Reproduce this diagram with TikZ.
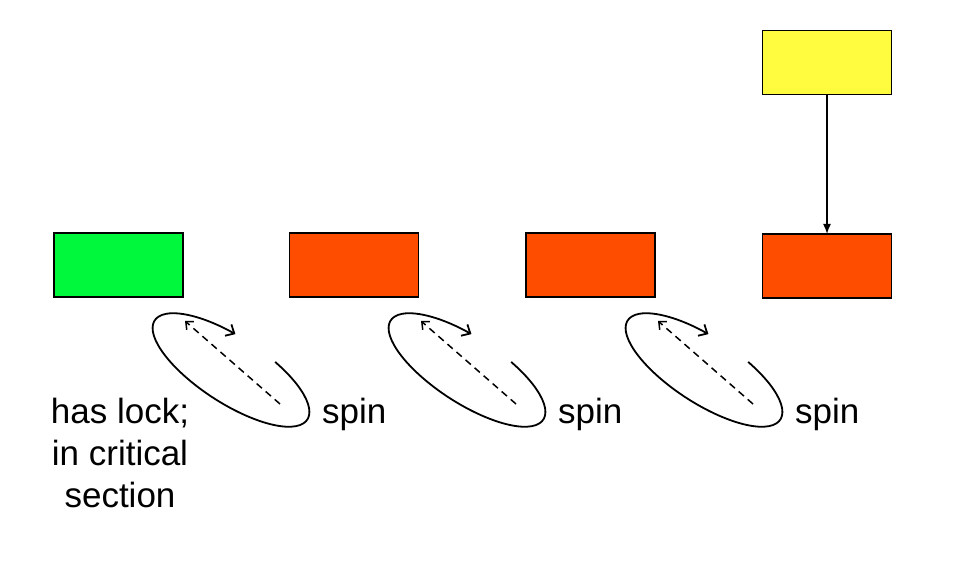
\documentclass[tikz,border=0pt]{standalone}
\usepackage{fontspec}
\setmainfont{Liberation Sans}
\usetikzlibrary{arrows.meta}
\definecolor{lockgreen}{HTML}{00F83C}
\definecolor{spinorange}{HTML}{FF4D00}
\definecolor{newyellow}{HTML}{FFFC40}
\tikzset{
  thread/.style={draw=black, line width=1.8pt, minimum width=129pt, minimum height=64pt, inner sep=0pt, outer sep=0pt},
  lbl/.style={font=\fontsize{35}{42}\selectfont, inner sep=0pt},
  spinicon/.pic={
    \begin{scope}[rotate=-33]
      \draw[line width=1.8pt, -{Straight Barb[length=7pt,width=13pt]}]
        (69:91pt and 33pt) arc[start angle=69, end angle=-260, x radius=91pt, y radius=33pt];
    \end{scope}
    \draw[line width=1.5pt, dash pattern=on 7pt off 5pt, -{Straight Barb[length=6pt,width=11pt]}]
      (49pt,-34pt) -- (-46pt,49pt);
  }
}
\begin{document}
\begin{tikzpicture}[x=1pt,y=1pt]
\useasboundingbox (0,0) rectangle (956,564);
\node[thread, fill=lockgreen] (g) at (118.5,299) {};
\node[thread, fill=spinorange] (o1) at (354,299) {};
\node[thread, fill=spinorange] (o2) at (590.5,299) {};
\node[thread, fill=spinorange] (o3) at (827,298) {};
\node[thread, fill=newyellow] (y) at (827,501.5) {};
\draw[line width=1.5pt, -{Latex[length=10pt,width=8pt]}] (y.south) -- (o3.north);
\pic at (231,194) {spinicon};
\pic at (467,194) {spinicon};
\pic at (704,194) {spinicon};
\node[lbl, anchor=west] (s1) at (322,150) {spin};
\node[lbl, anchor=west] (s2) at (558,150) {spin};
\node[lbl, anchor=west] (s3) at (795,150) {spin};
\node[lbl, align=center] (h) at (120,111) {has lock;\\in critical\\section};
\end{tikzpicture}
\end{document}
